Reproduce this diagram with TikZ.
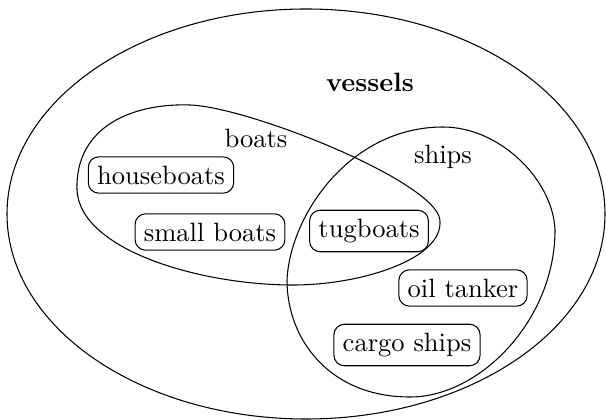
\documentclass[tikz,border=0pt]{standalone}
\begin{document}
\begin{tikzpicture}[x=0.3771pt, y=-0.3771pt]
\tikzstyle{item}  = [rectangle, rounded corners, draw=black]
\tikzstyle{label} = [inner sep=0pt]

\useasboundingbox (0,0) rectangle (606,420);

\draw (306,214) ellipse [x radius=299, y radius=205];

\draw (77,190) .. controls (75,125) and (135,103) .. (190,105)
               .. controls (250,107) and (445,185) .. (440,223)
               .. controls (440,260) and (360,285) .. (293,285)
               .. controls (200,285) and (80,250) .. (77,190) -- cycle;

\draw (443,127) .. controls (500,127) and (553,180) .. (555,230)
                .. controls (555,320) and (480,397) .. (410,397)
                .. controls (330,397) and (287,340) .. (287,280)
                .. controls (290,215) and (350,127) .. (443,127) -- cycle;

\node (vessels) [label] at (370,82)  {\textbf{vessels}};
\node (boats)   [label] at (256,138) {boats};
\node (ships)   [label] at (443,157) {ships};

\node (houseboats) [item] at (161,175) {houseboats};
\node (smallboats) [item] at (210,232) {small boats};
\node (tugboats)   [item] at (369,231) {tugboats};
\node (oiltanker)  [item] at (463,288) {oil tanker};
\node (cargoships) [item] at (407,345) {cargo ships};
\end{tikzpicture}
\end{document}
